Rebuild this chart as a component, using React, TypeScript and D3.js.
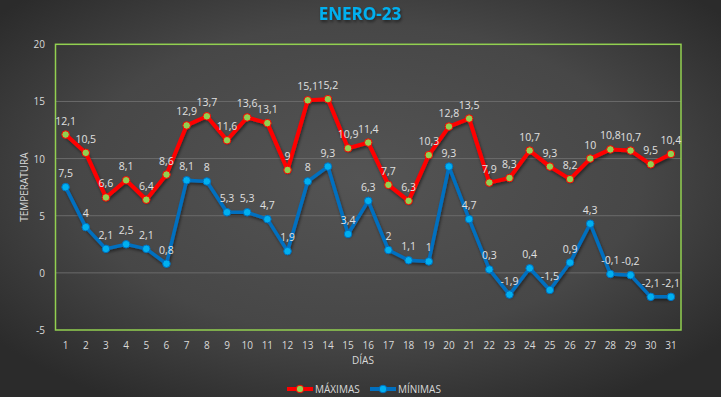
import React from 'react';
import * as d3 from 'd3';

const days = d3.range(1, 32).map(String);
const maximas = [12.1, 10.5, 6.6, 8.1, 6.4, 8.6, 12.9, 13.7, 11.6, 13.6, 13.1, 9, 15.1, 15.2, 10.9, 11.4, 7.7, 6.3, 10.3, 12.8, 13.5, 7.9, 8.3, 10.7, 9.3, 8.2, 10, 10.8, 10.7, 9.5, 10.4];
const minimas = [7.5, 4, 2.1, 2.5, 2.1, 0.8, 8.1, 8, 5.3, 5.3, 4.7, 1.9, 8, 9.3, 3.4, 6.3, 2, 1.1, 1, 9.3, 4.7, 0.3, -1.9, 0.4, -1.5, 0.9, 4.3, -0.1, -0.2, -2.1, -2.1];
const yTicks = [-5, 0, 5, 10, 15, 20];

const width = 721;
const height = 397;
const margin = { left: 55.5, right: 40, top: 44.3, bottom: 67 };
const font = "'Open Sans', 'DejaVu Sans', sans-serif";

export default function App() {
  const x = d3
    .scaleBand()
    .domain(days)
    .range([margin.left, width - margin.right]);
  const y = d3
    .scaleLinear()
    .domain([-5, 20])
    .range([height - margin.bottom, margin.top]);
  const cx = (i: number) => (x(days[i]) as number) + x.bandwidth() / 2;
  const line = d3
    .line<number>()
    .x((d, i) => cx(i))
    .y((d) => y(d));
  const fmt = (v: number) => String(v).replace('.', ',');

  const series = [
    { name: 'MÁXIMAS', values: maximas, stroke: '#ff0000', fill: '#92d050', mstroke: '#ff0000', w: 4 },
    { name: 'MÍNIMAS', values: minimas, stroke: '#0070c0', fill: '#00b0f0', mstroke: '#0070c0', w: 3.5 },
  ];

  return (
    <svg width={width} height={height} style={{ position: 'absolute', left: 0, top: 0 }}>
      <defs>
        <radialGradient id="bg" cx="50%" cy="45%" r="65%">
          <stop offset="0%" stopColor="#545454" />
          <stop offset="60%" stopColor="#474747" />
          <stop offset="100%" stopColor="#2b2b2b" />
        </radialGradient>
        <filter id="sh" x="-10%" y="-10%" width="120%" height="130%">
          <feDropShadow dx="1" dy="2" stdDeviation="1.5" floodColor="#000" floodOpacity="0.5" />
        </filter>
      </defs>
      <rect width={width} height={height} fill="url(#bg)" />
      <text x={360} y={20} textAnchor="middle" fill="#00b0f0" fontFamily={font} fontWeight="bold" fontSize={17} filter="url(#sh)">
        ENERO-23
      </text>
      {yTicks.map((t) => (
        <g key={t}>
          {t > -5 && t < 20 && (
            <line x1={margin.left} x2={width - margin.right} y1={y(t)} y2={y(t)} stroke="#6b6b6b" strokeWidth={1} />
          )}
          <text x={45} y={y(t) + 4} textAnchor="end" fill="#d9d9d9" fontFamily={font} fontSize={10}>
            {t}
          </text>
        </g>
      ))}
      <rect
        x={margin.left}
        y={margin.top}
        width={width - margin.right - margin.left}
        height={height - margin.bottom - margin.top}
        fill="none"
        stroke="#92d050"
        strokeWidth={1.5}
      />
      {days.map((d, i) => (
        <text key={d} x={cx(i)} y={349} textAnchor="middle" fill="#d9d9d9" fontFamily={font} fontSize={10}>
          {d}
        </text>
      ))}
      <text x={363} y={364} textAnchor="middle" fill="#d9d9d9" fontFamily={font} fontSize={10}>
        DÍAS
      </text>
      <text
        transform={`translate(28, ${(margin.top + height - margin.bottom) / 2}) rotate(-90)`}
        textAnchor="middle"
        fill="#d9d9d9"
        fontFamily={font}
        fontSize={10}
      >
        TEMPERATURA
      </text>
      {series.map((s) => (
        <g key={s.name}>
          <path d={line(s.values) as string} fill="none" stroke={s.stroke} strokeWidth={s.w} strokeLinejoin="round" filter="url(#sh)" />
          {s.values.map((v, i) => (
            <circle key={i} cx={cx(i)} cy={y(v)} r={3.8} fill={s.fill} stroke={s.mstroke} strokeWidth={1} />
          ))}
          {s.values.map((v, i) => (
            <text key={'t' + i} x={cx(i)} y={y(v) - 10} textAnchor="middle" fill="#e0e0e0" fontFamily={font} fontSize={10.5}>
              {fmt(v)}
            </text>
          ))}
        </g>
      ))}
      {series.map((s, k) => {
        const lx = k === 0 ? 287 : 370;
        return (
          <g key={'l' + s.name}>
            <line x1={lx} x2={lx + 26} y1={389} y2={389} stroke={s.stroke} strokeWidth={4} />
            <circle cx={lx + 13} cy={389} r={3.8} fill={s.fill} stroke={s.mstroke} strokeWidth={1} />
            <text x={lx + 28} y={393} fill="#d9d9d9" fontFamily={font} fontSize={10}>
              {s.name}
            </text>
          </g>
        );
      })}
    </svg>
  );
}
